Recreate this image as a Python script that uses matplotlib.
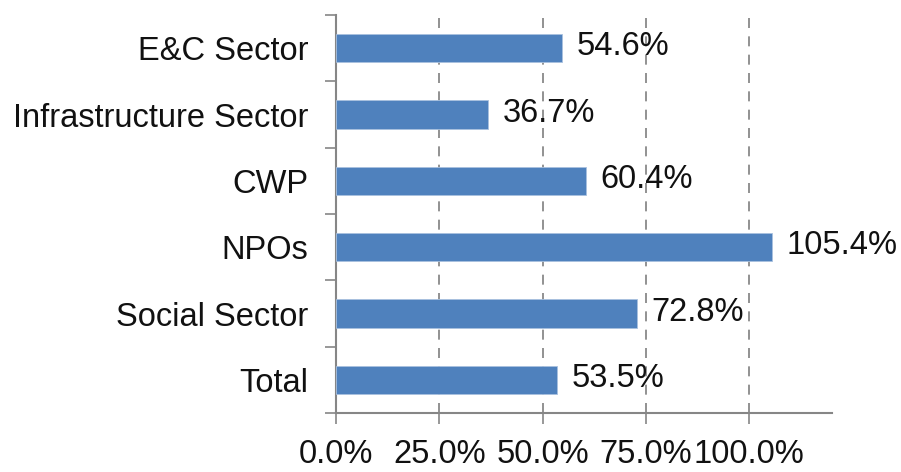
import numpy as np
import matplotlib.pyplot as plt

categories = ["E&C Sector", "Infrastructure Sector", "CWP", "NPOs", "Social Sector", "Total"]
values = [54.6, 36.7, 60.4, 105.4, 72.8, 53.5]
xticks = [0, 25, 50, 75, 100]
xtick_labels = ["0.0%", "25.0%", "50.0%", "75.0%", "100.0%"]

plt.rcParams["font.family"] = ["Liberation Sans", "DejaVu Sans"]
FS = 23.5

fig = plt.figure(figsize=(9.01, 4.72), dpi=100)
ax = fig.add_axes([0.3729, 0.125, 0.5505, 0.8432])

y = np.arange(len(categories))
ax.barh(y, values, height=0.43, color="#4f81bd", edgecolor="#a9c1df", linewidth=0.6, zorder=3)

for yi, v in zip(y, values):
    ax.text(v + 3.6, yi - 0.02, f"{v:.1f}%", va="center", ha="left", fontsize=FS, color="#111111", zorder=4)

ax.set_xlim(0, 120)
ax.set_ylim(len(categories) - 0.5, -0.5)
ax.set_xticks(xticks)
ax.set_xticklabels(xtick_labels, fontsize=FS, color="#111111")
ax.set_yticks(y)
ax.set_yticklabels(categories, fontsize=FS, color="#111111")

# ticks at category boundaries on the y axis
ax.set_yticks(np.arange(len(categories) + 1) - 0.5, minor=True)
ax.tick_params(axis="y", which="major", length=0, pad=20)
ax.tick_params(axis="y", which="minor", length=8, width=1.2, color="#868686", direction="out")
ax.tick_params(axis="x", which="major", length=8, width=1.2, color="#868686", direction="out", pad=11)

ax.grid(axis="x", linestyle=(0, (6, 5)), color="#7f7f7f", linewidth=1.2, zorder=0)
for s in ["top", "right"]:
    ax.spines[s].set_visible(False)
for s in ["left", "bottom"]:
    ax.spines[s].set_color("#868686")
    ax.spines[s].set_linewidth(1.5)

fig.savefig("out.png", dpi=100)
